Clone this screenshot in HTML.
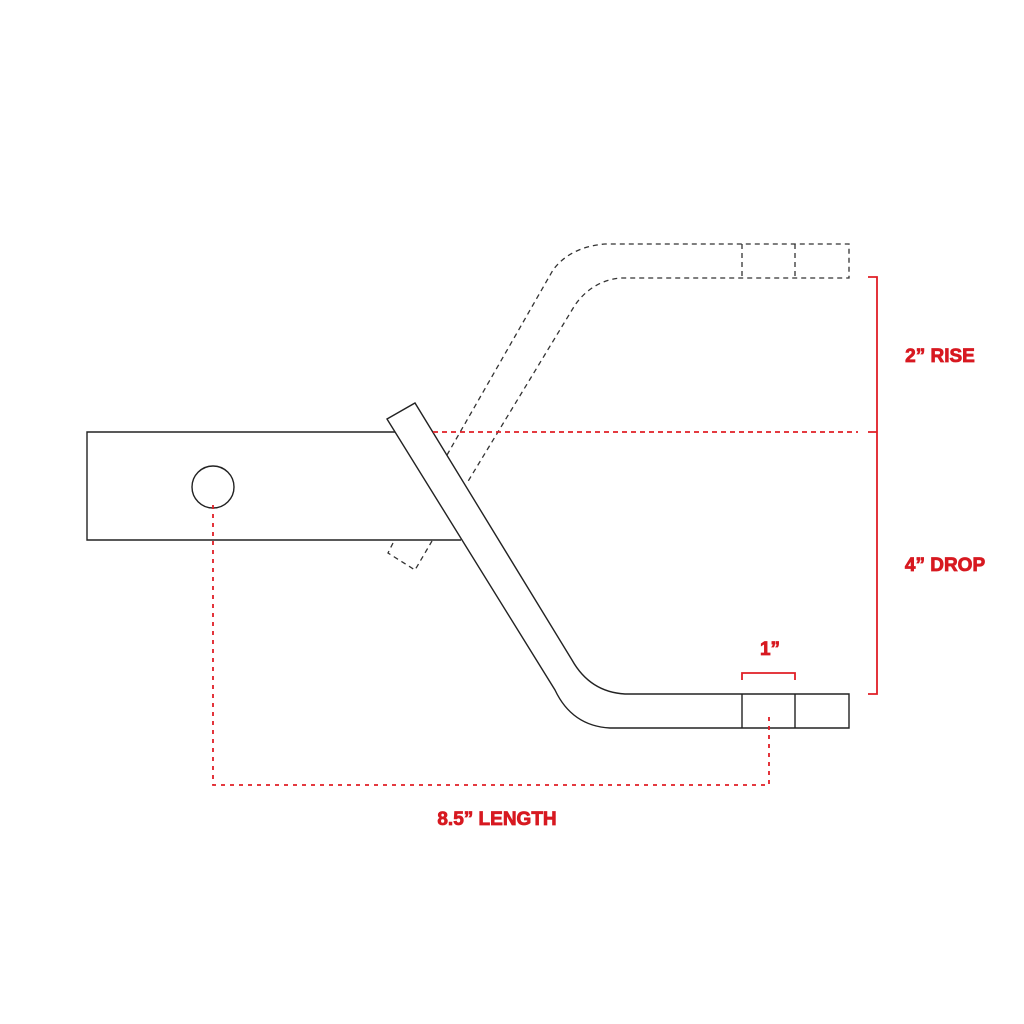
<!DOCTYPE html>
<html><head><meta charset="utf-8"><style>
html,body{margin:0;padding:0;background:#fff;}
svg{display:block}
text{font-family:"Liberation Sans",sans-serif;font-weight:bold;fill:#d71920;stroke:#d71920;stroke-width:0.8;}
</style></head><body>
<svg width="1024" height="1024" viewBox="0 0 1024 1024" xmlns="http://www.w3.org/2000/svg">
<g fill="none" stroke="#333" stroke-width="1.3" stroke-dasharray="5,4">
  <path d="M447,455 L553,270 Q570,247 605,244 L849,244 L849,278 L620,278 Q592,281 575,305 L467,483"/>
  <line x1="742" y1="244" x2="742" y2="278"/>
  <line x1="795" y1="244" x2="795" y2="278"/>
  <path d="M393,543 L388,553 L415,570 L432,541"/>
</g>
<g fill="none" stroke="#222" stroke-width="1.4">
  <path d="M395,432 L87,432 L87,540 L461,540"/>
  <circle cx="213" cy="487" r="21"/>
  <path d="M387,419 L415,403 L572,660 Q590,692 625,694 L849,694 L849,728 L610,728 Q572,726 555,690 Z"/>
  <line x1="742" y1="694" x2="742" y2="728"/>
  <line x1="795" y1="694" x2="795" y2="728"/>
</g>
<g fill="none" stroke="#e01f26" stroke-width="1.8">
  <line x1="433" y1="432" x2="858" y2="432" stroke-dasharray="5,4"/>
  <path d="M213,505 L213,785 L769,785 L769,713" stroke-dasharray="4,5"/>
  <path d="M868,277 L877,277 L877,694 L868,694 M868,432 L877,432"/>
  <path d="M742,680 L742,673 L795,673 L795,680"/>
</g>
<text x="940" y="362" font-size="19" text-anchor="middle">2” RISE</text>
<text x="945" y="571" font-size="19" text-anchor="middle">4” DROP</text>
<text x="770" y="655" font-size="19" text-anchor="middle">1”</text>
<text x="497" y="825" font-size="19" text-anchor="middle">8.5” LENGTH</text>
</svg>
</body></html>
